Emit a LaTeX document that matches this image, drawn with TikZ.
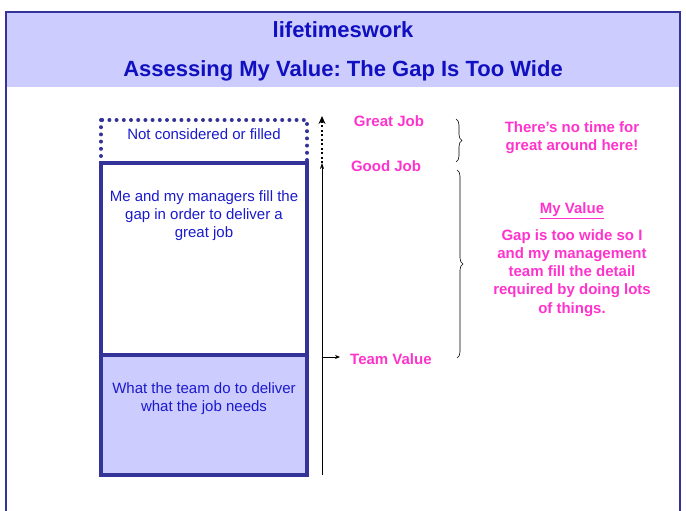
\documentclass[tikz,border=0pt]{standalone}
\usepackage{fontspec}
\setmainfont{Liberation Sans}
\usetikzlibrary{positioning,decorations.pathreplacing,arrows.meta}
\frenchspacing
\definecolor{framecol}{HTML}{333399}
\definecolor{headfill}{HTML}{CCCCFF}
\definecolor{titleblue}{HTML}{1010C0}
\definecolor{boxtext}{HTML}{1A1ACC}
\definecolor{pinktext}{HTML}{FF33CC}
\tikzset{
  boxline/.style={draw=framecol, line width=4pt, inner sep=0pt, outer sep=0pt, anchor=north west},
  dotline/.style={draw=framecol, line width=4pt, line cap=round, dash pattern=on 0pt off 7.2pt},
  titletxt/.style={text=titleblue, font=\bfseries\fontsize{22}{26}\selectfont},
  boxtxt/.style={text=boxtext, font=\fontsize{15}{18}\selectfont, align=center, inner sep=2pt},
  pinklbl/.style={text=pinktext, font=\bfseries\fontsize{15}{18.3}\selectfont, align=center, inner sep=1pt},
  bracepath/.style={decorate, decoration={brace, amplitude=6pt}, line width=0.6pt}
}
\begin{document}
\begin{tikzpicture}[x=1pt, y=-1pt]
\useasboundingbox (0,0) rectangle (686,511);

% header band and frame
\fill[headfill] (6,12) rectangle (680,87);
\draw[framecol, line width=2pt] (6,520) -- (6,12) -- (680,12) -- (680,520);
\node[titletxt] (site) at (343,30) {lifetimeswork};
\node[titletxt] (title) at (343,71) {Assessing My Value: The Gap Is Too Wide};

% the stacked boxes
\draw[dotline] (101,120) rectangle (307,163);
\node[boxline, minimum width=206pt, minimum height=192pt] (gap) at (101,163) {};
\node[boxline, fill=headfill, minimum width=206pt, minimum height=120pt] (team) at (101,355) {};
\node[boxtxt] (notfilled) at (204,134) {Not considered or filled};
\node[boxtxt, anchor=north] (gaptxt) at ([yshift=-25pt]gap.north) {Me and my managers fill the\\gap in order to deliver a\\great job};
\node[boxtxt, anchor=north] (teamtxt) at ([yshift=-25pt]team.north) {What the team do to deliver\\what the job needs};

% the value axis
\coordinate (base) at (322,475);
\coordinate (good) at (322,163);
\coordinate (great) at (322,116);
\coordinate (tvstart) at (322,357);
\draw[line width=0.8pt, -{Stealth[length=6pt,width=4pt]}] (base) -- (good);
\draw[line width=2pt, dash pattern=on 2pt off 2.5pt, -{Stealth[length=8pt,width=7pt]}] (good) -- (great);

% labels on the axis
\node[pinklbl] (greatjob) at (389,121) {Great Job};
\node[pinklbl] (goodjob) at (386,166) {Good Job};
\node[pinklbl, anchor=west] (teamvalue) at (349,359) {Team Value};
\draw[line width=0.8pt, -{Stealth[length=5pt,width=4pt]}] (tvstart) -- (340,357);

% braces
\coordinate (b1top) at (456,119);
\coordinate (b1bot) at (456,162);
\coordinate (b2top) at (457,170);
\coordinate (b2bot) at (457,358);
\draw[bracepath] (b1top) -- (b1bot);
\draw[bracepath] (b2top) -- (b2bot);

% right hand notes
\node[pinklbl] (notime) at (572,138) {There’s no time for\\great around here!};
\node[pinklbl] (myvalue) at (572,211) {\underline{My Value}};
\node[pinklbl, anchor=north] (gapnote) at (572,228) {Gap is too wide so I\\and my management\\team fill the detail\\required by doing lots\\of things.};
\end{tikzpicture}
\end{document}
